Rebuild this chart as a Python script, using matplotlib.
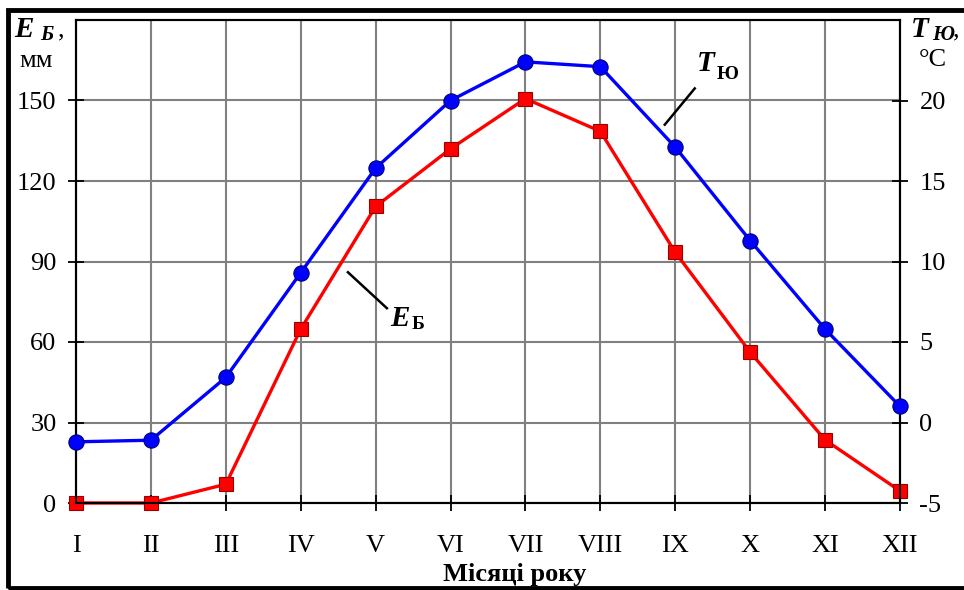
import matplotlib.pyplot as plt
from matplotlib.patches import Rectangle

plt.rcParams['font.family'] = ['Liberation Serif', 'DejaVu Serif']
plt.rcParams['axes.unicode_minus'] = False

months = ['I', 'II', 'III', 'IV', 'V', 'VI', 'VII', 'VIII', 'IX', 'X', 'XI', 'XII']
evap = [0, 0, 7, 64.8, 110.5, 132, 150.7, 138.5, 93.4, 56.2, 23.5, 4.5]      # E_Б, мм
temp = [-1.2, -1.1, 2.8, 9.3, 15.8, 20.0, 22.4, 22.1, 17.1, 11.3, 5.8, 1.0]  # T_Ю, °C
e_ticks = [0, 30, 60, 90, 120, 150]
t_ticks = [-5, 0, 5, 10, 15, 20]

W, H = 964, 590
fig = plt.figure(figsize=(W / 100, H / 100), dpi=100)
ax = fig.add_axes([76 / W, 1 - 503 / H, (900 - 76) / W, (503 - 20) / H])
ax2 = ax.twinx()

def px(x, y):
    return x / W, 1 - y / H

x = list(range(1, 13))
ax.set_xlim(1, 12)
ax.set_ylim(0, 180)
ax2.set_ylim(-5, 25)
ax.set_xticks(x)
ax.set_xticklabels(months)
ax.set_yticks(e_ticks)
ax2.set_yticks(t_ticks)

ax.grid(True, color='#808080', lw=1.5)
ax.set_axisbelow(True)
for a in (ax, ax2):
    for s in a.spines.values():
        s.set_linewidth(1.5)
        s.set_color('black')
ax.tick_params(axis='both', direction='inout', length=12, width=1.3,
               labelsize=19, colors='black')
ax.tick_params(axis='x', pad=17)
ax.tick_params(axis='y', pad=8)
ax2.tick_params(axis='y', direction='inout', length=12, width=1.3,
                labelsize=19, pad=8)

ax2.plot(x, temp, color='#0000ff', lw=2.4, marker='o', ms=11,
         mfc='#0000ff', mec='#00007a', mew=0.8, zorder=5, clip_on=False)
ax.plot(x, evap, color='#ff0000', lw=2.4, marker='s', ms=10.5,
        mfc='#ff0000', mec='#990000', mew=0.8, zorder=5, clip_on=False)

# axis titles
fig.text(*px(14, 37), 'E', fontsize=21, fontweight='bold', style='italic')
fig.text(*px(40, 40), 'Б', fontsize=15, fontweight='bold', style='italic')
fig.text(*px(58, 36), ',', fontsize=19)
fig.text(*px(36, 61), 'мм', fontsize=19, ha='center', va='center')
fig.text(*px(911, 37), 'T', fontsize=21, fontweight='bold', style='italic')
fig.text(*px(932, 40), 'Ю', fontsize=15, fontweight='bold', style='italic')
fig.text(*px(953, 36), ',', fontsize=19)
fig.text(*px(933, 60), '°C', fontsize=19, ha='center', va='center')

# series labels
ax.plot([8.86, 9.26], [141, 154.5], color='black', lw=1.8)
ax.text(9.29, 161, 'T', fontsize=21, fontweight='bold', style='italic')
ax.text(9.55, 158, 'Ю', fontsize=14, fontweight='bold')
ax.plot([4.63, 5.15], [86, 72.6], color='black', lw=1.8)
ax.text(5.2, 66, 'E', fontsize=21, fontweight='bold', style='italic')
ax.text(5.48, 65, 'Б', fontsize=14, fontweight='bold')

fig.text(*px(515, 574), 'Місяці року', fontsize=19, fontweight='bold',
         ha='center', va='center')

fig.patches.append(Rectangle((8 / W, 2 / H), 2, 1 - 12 / H, transform=fig.transFigure,
                             fill=False, ec='black', lw=3.5))

fig.savefig('out.png', dpi=100)
